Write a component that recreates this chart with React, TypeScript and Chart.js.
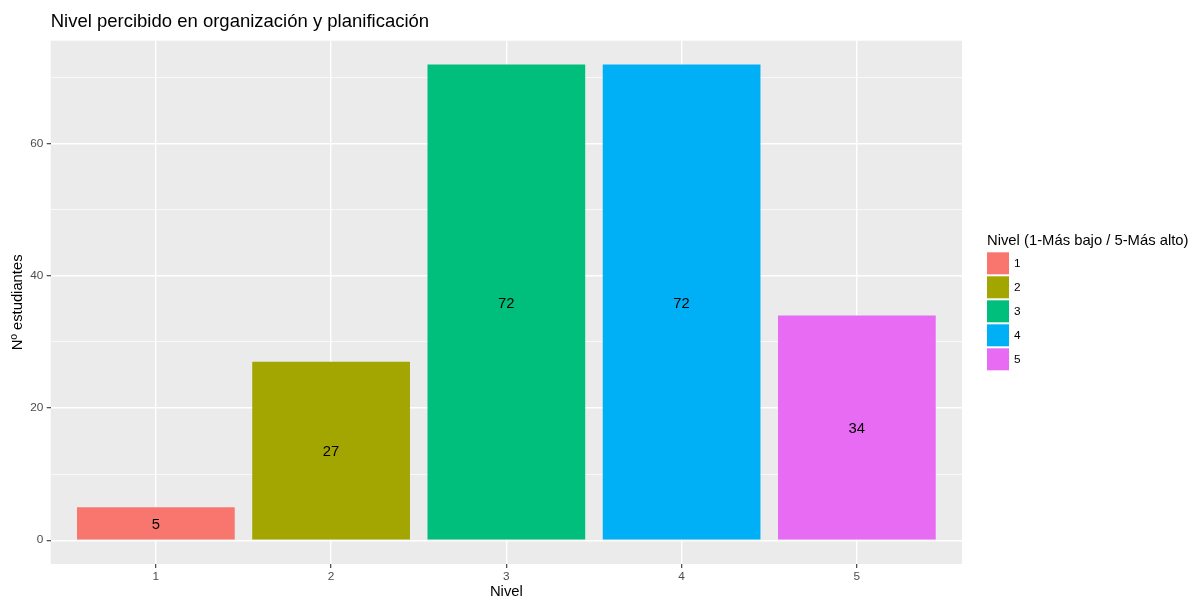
import React, { useEffect, useRef } from "react";
import { Chart, registerables } from "chart.js";

Chart.register(...registerables);

const chartTitle = "Nivel percibido en organización y planificación";
const xAxisTitle = "Nivel";
const yAxisTitle = "Nº estudiantes";
const legendTitle = "Nivel (1-Más bajo / 5-Más alto)";

const categories = ["1", "2", "3", "4", "5"];
const levels = [1, 2, 3, 4, 5];
const counts = [5, 27, 72, 72, 34];
const colors = ["#F8766D", "#A3A500", "#00BF7D", "#00B0F6", "#E76BF3"];
const yTickValues = [0, 10, 20, 30, 40, 50, 60, 70];
const yLabelValues = [0, 20, 40, 60];

const FONT = "'Liberation Sans', Arial, Helvetica, sans-serif";

const panelBg = {
  id: "panelBg",
  beforeDraw(chart: any) {
    const { ctx, chartArea } = chart;
    ctx.save();
    ctx.fillStyle = "#EBEBEB";
    ctx.fillRect(chartArea.left, chartArea.top, chartArea.right - chartArea.left, chartArea.bottom - chartArea.top);
    ctx.restore();
  },
};

const barLabels = {
  id: "barLabels",
  afterDatasetsDraw(chart: any) {
    const { ctx } = chart;
    const meta = chart.getDatasetMeta(0);
    ctx.save();
    ctx.fillStyle = "#000000";
    ctx.font = `14.8px ${FONT}`;
    ctx.textAlign = "center";
    ctx.textBaseline = "middle";
    meta.data.forEach((bar: any, i: number) => {
      const p = bar.getProps(["x", "y", "base"], true);
      ctx.fillText(String(counts[i]), p.x, (p.y + p.base) / 2 + 1.5);
    });
    ctx.restore();
  },
};

const titleAndLegend = {
  id: "titleAndLegend",
  afterDraw(chart: any) {
    const { ctx, chartArea } = chart;
    ctx.save();
    // title
    ctx.fillStyle = "#000000";
    ctx.font = `18.5px ${FONT}`;
    ctx.textAlign = "left";
    ctx.textBaseline = "alphabetic";
    ctx.fillText(chartTitle, chartArea.left, 27.2);
    // legend
    const lx = chartArea.right + 25;
    ctx.font = `14.8px ${FONT}`;
    ctx.fillText(legendTitle, lx, 245.3);
    ctx.font = `11.8px ${FONT}`;
    ctx.textBaseline = "middle";
    categories.forEach((c, i) => {
      const ky = 252.3 + i * 24;
      ctx.fillStyle = colors[i];
      ctx.fillRect(lx, ky, 22, 22);
      ctx.fillStyle = "#000000";
      ctx.fillText(c, lx + 27, ky + 11.5);
    });
    ctx.restore();
  },
};

export default function App() {
  const canvasRef = useRef<HTMLCanvasElement | null>(null);

  useEffect(() => {
    if (!canvasRef.current) return;
    const chart = new Chart(canvasRef.current, {
      type: "bar",
      data: {
        datasets: [
          {
            data: levels.map((l, i) => ({ x: l, y: counts[i] })),
            backgroundColor: colors,
            borderWidth: 0,
            barPercentage: 0.9,
            categoryPercentage: 1.0,
          },
        ],
      },
      options: {
        responsive: false,
        animation: false,
        layout: { padding: { top: 40.7, right: 232, bottom: 0, left: 0 } },
        plugins: {
          legend: { display: false },
          tooltip: { enabled: false },
          title: { display: false },
        },
        scales: {
          x: {
            type: "linear",
            min: 0.4,
            max: 5.6,
            offset: false,
            afterBuildTicks: (scale: any) => {
              scale.ticks = levels.map((v) => ({ value: v }));
            },
            afterFit: (scale: any) => {
              scale.height = 37;
            },
            border: { display: false },
            grid: {
              offset: false,
              color: "#FFFFFF",
              lineWidth: 1.4,
              drawTicks: true,
              tickLength: 4,
              tickColor: "#333333",
              tickWidth: 1.1,
            },
            ticks: {
              autoSkip: false,
              maxRotation: 0,
              padding: 2,
              color: "#4D4D4D",
              font: { family: FONT, size: 11.8 },
              callback: (_v: any, i: number) => categories[i],
            },
            title: {
              display: true,
              text: xAxisTitle,
              color: "#000000",
              font: { family: FONT, size: 14.8 },
              padding: { top: 0, bottom: 0 },
            },
          },
          y: {
            type: "linear",
            min: -3.6,
            max: 75.6,
            afterBuildTicks: (scale: any) => {
              scale.ticks = yTickValues.map((v) => ({ value: v }));
            },
            afterFit: (scale: any) => {
              scale.width = 50.7;
            },
            border: { display: false },
            grid: {
              color: "#FFFFFF",
              lineWidth: (ctx: any) => (ctx.tick && yLabelValues.includes(ctx.tick.value) ? 1.4 : 0.7),
              drawTicks: true,
              tickLength: 4,
              tickColor: (ctx: any) =>
                ctx.tick && yLabelValues.includes(ctx.tick.value) ? "#333333" : "rgba(0,0,0,0)",
              tickWidth: 1.1,
            },
            ticks: {
              autoSkip: false,
              padding: 3.4,
              color: "#4D4D4D",
              font: { family: FONT, size: 11.8 },
              callback: (v: any) => (yLabelValues.includes(v) ? String(v) : ""),
            },
            title: {
              display: true,
              text: yAxisTitle,
              color: "#000000",
              font: { family: FONT, size: 14.8 },
              padding: { top: 9.5, bottom: 0 },
            },
          },
        },
      } as any,
      plugins: [panelBg, barLabels, titleAndLegend],
    });
    return () => chart.destroy();
  }, []);

  return (
    <div style={{ position: "fixed", left: 0, top: 0, width: 1194, height: 601, background: "#FFFFFF" }}>
      <canvas ref={canvasRef} width={1194} height={601} style={{ display: "block" }} />
    </div>
  );
}
